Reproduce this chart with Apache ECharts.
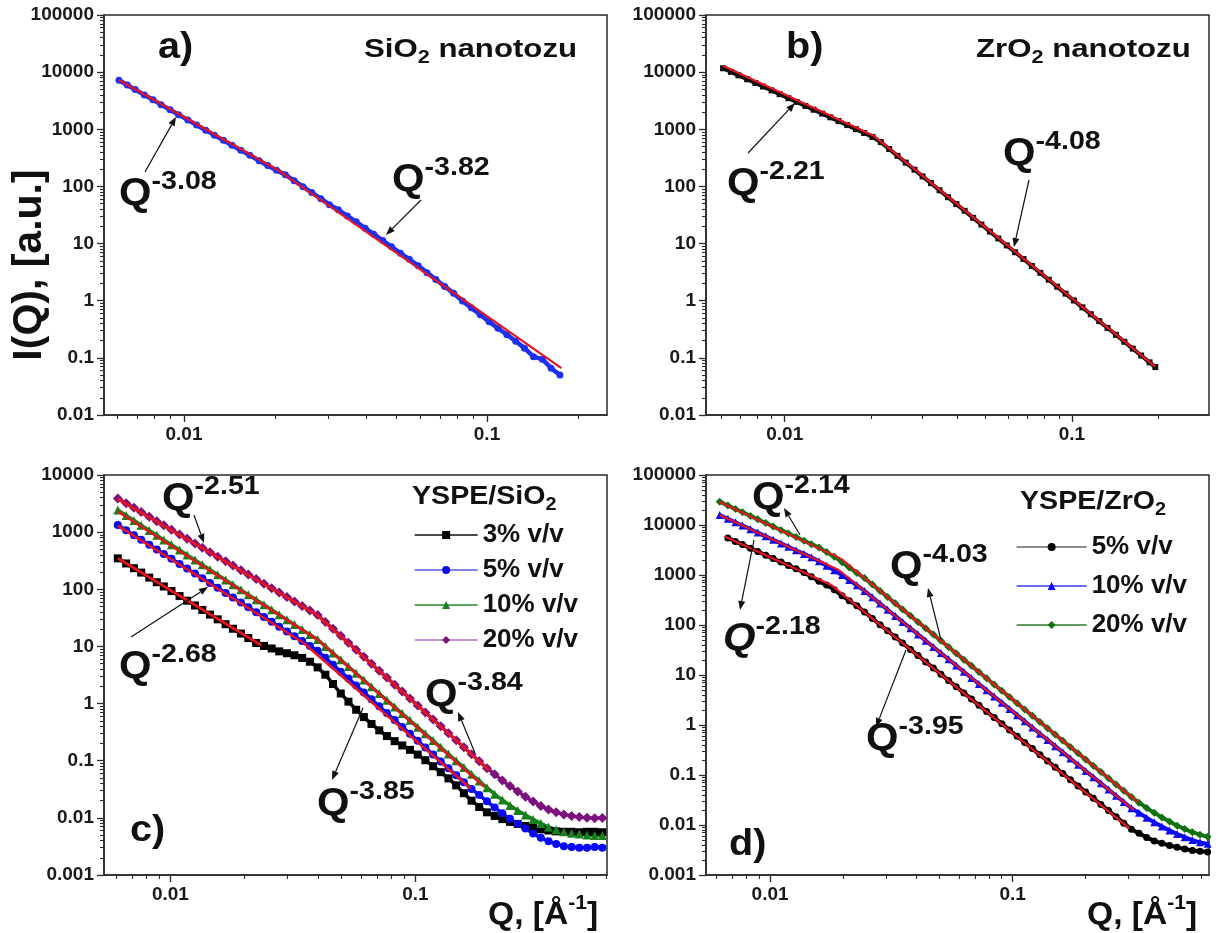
<!DOCTYPE html>
<html><head><meta charset="utf-8">
<script src="https://cdn.jsdelivr.net/npm/echarts@6.0.0/dist/echarts.min.js"></script>
<style>html,body{margin:0;padding:0;background:#fff}#c{width:1230px;height:933px}</style>
</head><body><div id="c"></div>
<script>
// ---------- data ----------
const qA = [0.0061,0.0065,0.0069,0.0074,0.0079,0.0084,0.009,0.0096,0.0103,0.011,0.0118,0.0126,0.0135,0.0144,0.0154,0.0165,0.0177,0.0189,0.0202,0.0216,0.0231,0.0247,0.0264,0.0283,0.0302,0.0323,0.0346,0.037,0.0396,0.0423,0.0453,0.0484,0.0518,0.0554,0.0593,0.0634,0.0678,0.0725,0.0776,0.083,0.0888,0.095,0.1016,0.1087,0.1163,0.1244,0.133,0.1423,0.1522,0.1628,0.1741];
const iA = [7200,5950,4950,4000,3280,2700,2200,1800,1460,1190,965,790,640,525,430,350,282,232,192,160,126,99,78,61,48,39,30.5,24,18.6,14.6,11.3,8.8,6.8,5.3,4.1,3.1,2.35,1.78,1.35,0.99,0.75,0.57,0.43,0.33,0.255,0.195,0.148,0.105,0.095,0.066,0.05];

const qB = [0.0061,0.0065,0.0069,0.0074,0.0079,0.0084,0.009,0.0096,0.0103,0.011,0.0118,0.0126,0.0135,0.0144,0.0154,0.0165,0.0177,0.0189,0.0202,0.0216,0.0231,0.0247,0.0264,0.0283,0.0302,0.0323,0.0346,0.037,0.0396,0.0423,0.0453,0.0484,0.0518,0.0554,0.0593,0.0634,0.0678,0.0725,0.0776,0.083,0.0888,0.095,0.1016,0.1087,0.1163,0.1244,0.133,0.1423,0.1522,0.1628,0.1741,0.1862,0.195];
const iB = [11700,10100,8800,7500,6450,5600,4780,4120,3500,3010,2560,2200,1880,1620,1390,1185,1005,860,735,597,452,343,261,196,150,114,85.6,64.9,49.1,37.4,28.2,21.5,16.2,12.3,9.3,7.06,5.36,4.06,3.07,2.33,1.76,1.33,1.01,0.766,0.58,0.439,0.334,0.253,0.191,0.145,0.11,0.0835,0.069];

const qC = [0.0061,0.0066,0.0071,0.0076,0.0082,0.0088,0.0094,0.0101,0.0109,0.0117,0.0126,0.0135,0.0145,0.0156,0.0168,0.018,0.0194,0.0208,0.0224,0.0241,0.0259,0.0278,0.0299,0.0321,0.0345,0.0371,0.0399,0.0429,0.0461,0.0496,0.0533,0.0573,0.0616,0.0662,0.0712,0.0765,0.0823,0.0884,0.095,0.1022,0.1098,0.1181,0.1269,0.1364,0.1467,0.1577,0.1695,0.1822,0.1959,0.2106,0.2264,0.2433,0.2616,0.2812,0.3023,0.325,0.3494,0.3756,0.4037,0.434,0.4666,0.5016,0.5392,0.5796];
const iC3 = [348,283,234,196,160,133,112,93,76,63.2,52.1,43.5,36.1,29.8,24.5,20.4,16.8,14.0,11.5,10.2,9.2,8.2,7.6,7.0,6.3,5.4,4.3,3.2,2.2,1.5,1.08,0.78,0.58,0.44,0.34,0.27,0.22,0.185,0.155,0.128,0.102,0.08,0.063,0.049,0.037,0.027,0.02,0.0155,0.0125,0.0108,0.0095,0.0085,0.0078,0.0072,0.0067,0.0063,0.006,0.0058,0.0057,0.0057,0.0056,0.0057,0.0057,0.0056];
const iC5 = [1334,1078,885,736,600,496,415,342,278,230,188,156,129,106,86.5,71.8,58.6,48.6,39.8,32.7,26.9,22.2,18.2,15.1,12.4,10.2,8.37,6.33,4.80,3.62,2.75,2.08,1.57,1.19,0.90,0.683,0.516,0.391,0.297,0.224,0.17,0.128,0.0973,0.0737,0.0557,0.0422,0.0319,0.025,0.0195,0.0152,0.012,0.0096,0.0079,0.0065,0.0053,0.0045,0.0039,0.0035,0.0032,0.0031,0.003,0.003,0.0031,0.003];
const iC10 = [2438,1958,1598,1323,1071,880,732,600,486,399,325,268,220,179,146,120,97.7,80.6,65.6,53.5,43.8,36,29.4,24.1,19.7,16.1,13.2,10.0,7.66,5.82,4.45,3.39,2.58,1.97,1.50,1.147,0.872,0.667,0.509,0.387,0.296,0.225,0.172,0.131,0.0998,0.076,0.058,0.0443,0.0337,0.026,0.0205,0.0165,0.0135,0.0112,0.0094,0.008,0.0069,0.0062,0.0057,0.0054,0.0052,0.005,0.0049,0.0049];
const iC20 = [3890,3195,2660,2245,1857,1556,1318,1103,912,764,635,534,447,372,309,260,216,181,151,125.5,104.7,87.7,73.1,61.2,51.2,42.7,35.6,26.8,20.3,15.3,11.57,8.73,6.6,4.99,3.76,2.85,2.14,1.62,1.23,0.925,0.70,0.528,0.40,0.302,0.2275,0.172,0.13,0.098,0.074,0.058,0.045,0.036,0.029,0.0235,0.0193,0.0162,0.014,0.0125,0.0115,0.0108,0.0103,0.01,0.0098,0.0099];

const qD = [0.0062,0.0067,0.0072,0.0077,0.0083,0.0089,0.0096,0.0103,0.0111,0.0119,0.0128,0.0138,0.0148,0.0159,0.0171,0.0184,0.0198,0.0212,0.0228,0.0245,0.0264,0.0284,0.0305,0.0328,0.0352,0.0379,0.0407,0.0438,0.0471,0.0506,0.0544,0.0585,0.0629,0.0676,0.0726,0.0781,0.0839,0.0902,0.097,0.1043,0.1121,0.1205,0.1295,0.1392,0.1497,0.1609,0.173,0.186,0.1999,0.2149,0.231,0.2483,0.2669,0.287,0.3085,0.3316,0.3565,0.3832,0.412,0.4429,0.4761,0.5118,0.5502,0.5915,0.6358];
const iD5 = [null,5508,4703,4055,3439,2945,2492,2134,1810,1556,1326,1124,921,754,628,506,385,307,241.5,182,135.5,101.4,76.6,57.4,43.5,32.5,24.5,18.3,13.8,10.4,7.79,5.84,4.39,3.30,2.49,1.866,1.406,1.057,0.793,0.595,0.448,0.337,0.253,0.1905,0.143,0.1074,0.0806,0.0606,0.0456,0.0343,0.0258,0.0194,0.0146,0.0109,0.0082,0.0068,0.0056,0.0048,0.0043,0.0039,0.0036,0.0033,0.0031,0.003,0.0029];
const iD10 = [15850,13320,11340,9750,8245,7040,5938,5073,4290,3676,3123,2640,2259,1890,1533,1240,995,795,624,481,358,268,202,152,115,85.9,64.8,48.5,36.4,27.4,20.6,15.5,11.6,8.73,6.59,4.93,3.72,2.80,2.10,1.574,1.184,0.890,0.670,0.504,0.378,0.284,0.213,0.160,0.1206,0.0906,0.0681,0.0512,0.0385,0.0289,0.0217,0.0175,0.014,0.0113,0.0093,0.0078,0.0066,0.0057,0.005,0.0045,0.0042];
const iD20 = [29300,24600,20900,18000,15200,12970,10940,9330,7890,6760,5735,4840,4140,3540,2870,2320,1800,1405,1100,866,644,481,362,271,205,153,115,85.8,64.3,48.3,36.2,27.1,20.3,15.25,11.5,8.58,6.45,4.84,3.62,2.72,2.04,1.53,1.147,0.861,0.645,0.483,0.362,0.272,0.204,0.153,0.1147,0.086,0.0645,0.0483,0.0362,0.028,0.022,0.0175,0.0142,0.0117,0.0097,0.0083,0.0072,0.0064,0.0058];

// power-law fit segments [Q, I] end points
const fitA1 = [[0.0061,7300],[0.0215,165]];
const fitA2 = [[0.021,175],[0.176,0.066]];
const fitB1 = [[0.0061,13000],[0.0205,760]];
const fitB2 = [[0.0205,760],[0.195,0.07]];
const fitC3a = [[0.0061,350],[0.0235,10.5]];
const fitC5a = [[0.0061,1300],[0.035,11.5]];
const fitC5b = [[0.035,11.5],[0.168,0.033]];
const fitC10a = [[0.0061,2300],[0.04,13]];
const fitC10b = [[0.04,13],[0.191,0.035]];
const fitC20a = [[0.0061,3800],[0.0395,36]];
const fitC20b = [[0.0395,36],[0.2,0.068]];
const fitD5a = [[0.0065,5900],[0.0178,640]];
const fitD5b = [[0.0178,640],[0.303,0.0086]];
const fitD10a = [[0.0062,15800],[0.0192,1260]];
const fitD10b = [[0.0192,1260],[0.315,0.02]];
const fitD20a = [[0.0062,29000],[0.0195,2150]];
const fitD20b = [[0.0195,2150],[0.327,0.029]];

// tick labels
const xTickLabels = ['0.01','0.1'];
const yTickLabelsAB = ['0.01','0.1','1','10','100','1000','10000','100000'];
const yTickLabelsC = ['0.001','0.01','0.1','1','10','100','1000','10000'];
const yTickLabelsD = ['0.001','0.01','0.1','1','10','100','1000','10000','100000'];
const legendNamesC = ['3% v/v','5% v/v','10% v/v','20% v/v'];
const legendNamesD = ['5% v/v','10% v/v','20% v/v'];

// ---------- build ----------
const LOG = Math.log10;
const F = 'Liberation Sans, Arial, Helvetica, sans-serif';
const toXY = (q, v) => q.map((x, i) => v[i] == null ? null : [LOG(x), LOG(v[i])]).filter(Boolean);
const fitXY = f => f.map(p => [LOG(p[0]), LOG(p[1])]);

const grids = [
  {left:104, top:15, width:503, height:400},
  {left:706, top:15, width:503, height:400},
  {left:104, top:475, width:503, height:400},
  {left:706, top:475, width:503, height:400}
];
const xRange = [[-2.264,-0.604],[-2.274,-0.523],[-2.271,-0.218],[-2.264,-0.191]];
const yRange = [[-2,5],[-2,5],[-3,4],[-3,5]];
const yLabelSets = [yTickLabelsAB, yTickLabelsAB, yTickLabelsC, yTickLabelsD];

function minors(lo, hi) {
  const out = [];
  for (let d = Math.floor(lo) - 1; d <= Math.ceil(hi); d++)
    for (let k = 2; k <= 9; k++) out.push(d + LOG(k));
  return out;
}
const AX = '#2a2a2a';
function labelFormatter(labels) {
  return v => {
    for (const l of labels) if (Math.abs(LOG(parseFloat(l)) - v) < 1e-6) return l;
    return '';
  };
}
const labelStyle = {fontSize:19, fontWeight:'bold', fontFamily:F, color:'#1a1a1a'};
const xAxes = [], yAxes = [];
grids.forEach((g, i) => {
  const xMaj = xTickLabels.map(l => LOG(parseFloat(l)));
  const yMaj = yLabelSets[i].map(l => LOG(parseFloat(l)));
  xAxes.push({type:'value', gridIndex:i, min:xRange[i][0], max:xRange[i][1], position:'bottom',
    axisLine:{show:true, onZero:false, lineStyle:{color:AX, width:1.5}},
    axisTick:{show:true, customValues:xMaj, length:7, lineStyle:{color:AX, width:1.3}},
    axisLabel:Object.assign({customValues:xMaj, formatter:labelFormatter(xTickLabels), margin:10}, labelStyle),
    splitLine:{show:false}});
  xAxes.push({type:'value', gridIndex:i, min:xRange[i][0], max:xRange[i][1], position:'bottom',
    axisLine:{show:false, onZero:false}, axisLabel:{show:false}, splitLine:{show:false},
    axisTick:{show:true, customValues:minors(xRange[i][0], xRange[i][1]), length:4, lineStyle:{color:AX, width:1.1}}});
  yAxes.push({type:'value', gridIndex:i, min:yRange[i][0], max:yRange[i][1], position:'left',
    axisLine:{show:true, onZero:false, lineStyle:{color:AX, width:1.5}},
    axisTick:{show:true, customValues:yMaj, length:7, lineStyle:{color:AX, width:1.3}},
    axisLabel:Object.assign({customValues:yMaj, formatter:labelFormatter(yLabelSets[i]), margin:10}, labelStyle),
    splitLine:{show:false}});
  yAxes.push({type:'value', gridIndex:i, min:yRange[i][0], max:yRange[i][1], position:'left',
    axisLine:{show:false, onZero:false}, axisLabel:{show:false}, splitLine:{show:false},
    axisTick:{show:true, customValues:minors(yRange[i][0], yRange[i][1]), length:4, lineStyle:{color:AX, width:1.1}}});
});

function dataSeries(name, g, q, v, sym, size, mColor, lColor, lw) {
  return {type:'line', name, xAxisIndex:2*g, yAxisIndex:2*g, data:toXY(q, v),
    symbol:sym, symbolSize:size, showSymbol:true, itemStyle:{color:mColor, borderWidth:0},
    lineStyle:{color:lColor, width:lw}, z:2, animation:false};
}
const RED = '#e5141e';
function fitSeries(g, f, w) {
  return {type:'line', name:'fit', xAxisIndex:2*g, yAxisIndex:2*g, data:fitXY(f), symbol:'none',
    lineStyle:{color:RED, width:w || 2.2}, z:4, silent:true, animation:false};
}
const series = [
  dataSeries('a', 0, qA, iA, 'circle', 7, '#1d30f0', '#1d30f0', 4.5),
  fitSeries(0, fitA1), fitSeries(0, fitA2),
  dataSeries('b', 1, qB, iB, 'rect', 6, '#111', '#111', 4),
  fitSeries(1, fitB1), fitSeries(1, fitB2),
  dataSeries('c3', 2, qC, iC3, 'rect', 8, '#000', '#000', 3.5),
  dataSeries('c5', 2, qC, iC5, 'circle', 8, '#0a0af5', '#0a0af5', 3.5),
  dataSeries('c10', 2, qC, iC10, 'triangle', 9, '#17801a', '#17801a', 3.5),
  dataSeries('c20', 2, qC, iC20, 'diamond', 10, '#7d117d', '#7d117d', 3.5),
  fitSeries(2, fitC3a, 2.8), fitSeries(2, fitC5a, 2.5), fitSeries(2, fitC5b, 2.5),
  fitSeries(2, fitC10a, 2.5), fitSeries(2, fitC10b, 2.5), fitSeries(2, fitC20a, 2.8), fitSeries(2, fitC20b, 2.8),
  dataSeries('d5', 3, qD, iD5, 'circle', 7, '#000', '#000', 4),
  dataSeries('d10', 3, qD, iD10, 'triangle', 8, '#0b0bf0', '#0b0bf0', 4),
  dataSeries('d20', 3, qD, iD20, 'diamond', 8, '#127212', '#127212', 4),
  fitSeries(3, fitD5a), fitSeries(3, fitD5b), fitSeries(3, fitD10a), fitSeries(3, fitD10b),
  fitSeries(3, fitD20a), fitSeries(3, fitD20b)
];

const legendText = {fontSize:26, fontWeight:'bold', fontFamily:F, color:'#111', lineHeight:30};
const legendLineC = ['#111', '#5a5ae6', '#2a8a2a', '#b46cc4'];
const legendLineD = ['#666', '#3a3af0', '#2a7a2a'];
const legends = [
  {data:['c3','c5','c10','c20'].map((n, k) => ({name:n, lineStyle:{width:1.3, color:legendLineC[k]}})),
   orient:'vertical', left:414, top:520, itemWidth:63, itemHeight:10, itemGap:5,
   padding:0, selectedMode:false, textStyle:legendText,
   formatter: n => legendNamesC[['c3','c5','c10','c20'].indexOf(n)]},
  {data:['d5','d10','d20'].map((n, k) => ({name:n, lineStyle:{width:1.3, color:legendLineD[k]}})),
   orient:'vertical', left:1016, top:532, itemWidth:70, itemHeight:10, itemGap:9,
   padding:0, selectedMode:false, textStyle:legendText,
   formatter: n => legendNamesD[['d5','d10','d20'].indexOf(n)]}
];

// ---------- annotations ----------
const SX = 1.1;
const INK = '#111';
function qLabel(x, y, exp, italic) {
  return {type:'text', x, y, scaleX:SX, z:100, style:{x:0, y:0, text:'{q|Q}{s|' + exp + '}', align:'left', verticalAlign:'middle',
    rich:{q:{fontSize:38, fontWeight:'bold', fontFamily:F, fill:INK, lineHeight:52, fontStyle: italic ? 'italic' : 'normal'},
          s:{fontSize:26, fontWeight:'bold', fontFamily:F, fill:INK, lineHeight:26, verticalAlign:'top'}}}};
}
function subText(x, y, a, sub, b, fs, sx) {
  return {type:'text', x, y, scaleX:sx || SX, z:100, style:{x:0, y:0, text:'{b|' + a + '}{u|' + sub + '}{b|' + b + '}', align:'left', verticalAlign:'middle',
    rich:{b:{fontSize:fs, fontWeight:'bold', fontFamily:F, fill:INK, lineHeight:fs + 8},
          u:{fontSize:Math.round(fs * 0.68), fontWeight:'bold', fontFamily:F, fill:INK, lineHeight:Math.round(fs * 0.68), verticalAlign:'bottom'}}}};
}
function plain(x, y, text, fs) {
  return {type:'text', x, y, scaleX:SX, z:100, style:{x:0, y:0, text, align:'left', verticalAlign:'middle',
    fontSize:fs, fontWeight:'bold', fontFamily:F, fill:INK}};
}
function axisTitleX(x, y) {
  return {type:'text', x, y, scaleX:1.05, z:100, style:{x:0, y:0, text:'{b|Q, [Å}{s|-1}{b|]}', align:'left', verticalAlign:'middle',
    rich:{b:{fontSize:32, fontWeight:'bold', fontFamily:F, fill:INK, lineHeight:44},
          s:{fontSize:20, fontWeight:'bold', fontFamily:F, fill:INK, lineHeight:20, verticalAlign:'top'}}}};
}
function arrow(x1, y1, x2, y2) {
  const dx = x2 - x1, dy = y2 - y1, len = Math.hypot(dx, dy), ux = dx / len, uy = dy / len;
  const hl = 9, hw = 3.5, bx = x2 - ux * hl, by = y2 - uy * hl;
  return [
    {type:'line', z:100, shape:{x1, y1, x2:bx, y2:by}, style:{stroke:INK, lineWidth:1.2}},
    {type:'polygon', z:100, shape:{points:[[x2, y2], [bx - uy * hw, by + ux * hw], [bx + uy * hw, by - ux * hw]]}, style:{fill:INK}}
  ];
}
const graphics = [
  {type:'text', x:30, y:265, rotation:Math.PI / 2, z:100, style:{text:'I(Q), [a.u.]', align:'center', verticalAlign:'middle',
    fontSize:41, fontWeight:'bold', fontFamily:F, fill:INK}},
  plain(158, 48, 'a)', 36), plain(786, 48, 'b)', 36), plain(130, 831, 'c)', 36), plain(729, 845, 'd)', 36),
  subText(364, 50, 'SiO', '2', ' nanotozu', 26, 1.2),
  subText(976, 50, 'ZrO', '2', ' nanotozu', 26, 1.2),
  subText(412, 497, 'YSPE/SiO', '2', '', 26),
  subText(1020, 502, 'YSPE/ZrO', '2', '', 26),
  axisTitleX(488, 915), axisTitleX(1087, 915),
  qLabel(119, 195, '-3.08'), qLabel(392, 181, '-3.82'),
  qLabel(727, 185, '-2.21'), qLabel(1003, 155, '-4.08'),
  qLabel(162, 500, '-2.51'), qLabel(119, 668, '-2.68'), qLabel(425, 696, '-3.84'), qLabel(317, 805, '-3.85'),
  qLabel(752, 499, '-2.14'), qLabel(723, 640, '-2.18', true), qLabel(890, 568, '-4.03'), qLabel(866, 740, '-3.95'),
  ...arrow(145, 172, 176, 117), ...arrow(421, 200, 386, 235),
  ...arrow(748, 153, 795, 103), ...arrow(1029, 180, 1014, 247),
  ...arrow(194, 515, 204, 543), ...arrow(131, 637, 208, 587),
  ...arrow(475, 753, 458, 712), ...arrow(363, 708, 332, 780),
  ...arrow(800, 535, 784, 508), ...arrow(754, 540, 740, 610),
  ...arrow(941, 640, 928, 588), ...arrow(906, 650, 876, 727)
];

const chart = echarts.init(document.getElementById('c'), null, {renderer:'canvas'});
chart.setOption({
  animation:false,
  backgroundColor:'#fff',
  textStyle:{fontFamily:F},
  grid:grids.map(g => Object.assign({show:true, borderColor:AX, borderWidth:1.5, containLabel:false}, g)),
  xAxis:xAxes, yAxis:yAxes,
  legend:legends,
  series,
  graphic:graphics
});
</script></body></html>
